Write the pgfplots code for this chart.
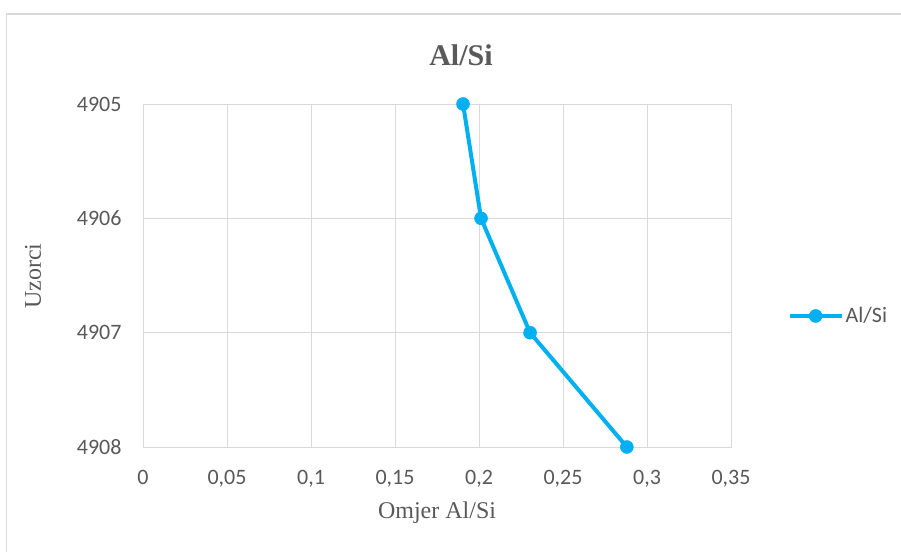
\documentclass[border=0pt]{standalone}
\usepackage{fontspec}
\setmainfont{Liberation Serif}
\newfontfamily\calfont{Carlito}
\usepackage{pgfplots}
\pgfplotsset{compat=1.18}
\definecolor{txt}{HTML}{595959}
\definecolor{grd}{HTML}{D9D9D9}
\definecolor{ser}{HTML}{00B0F0}
\begin{document}
\begin{tikzpicture}
\useasboundingbox (0pt,0pt) rectangle (901pt,552pt);
\fill[white] (0pt,0pt) rectangle (901pt,552pt);
\draw[grd, line width=1.5pt] (6.5pt,0pt) -- (6.5pt,538pt) -- (901pt,538pt);
\begin{axis}[at={(143pt,105pt)}, anchor=south west, scale only axis,
  width=588pt, height=343pt,
  xmin=0, xmax=0.35, ymin=4905, ymax=4908, y dir=reverse,
  xtick={0,0.05,0.1,0.15,0.2,0.25,0.3,0.35},
  xticklabels={0,{0,05},{0,1},{0,15},{0,2},{0,25},{0,3},{0,35}},
  ytick={4905,4906,4907,4908},
  yticklabels={4905,4906,4907,4908},
  grid=major, major grid style={grd, line width=1pt},
  axis line style={grd, line width=1pt},
  major tick length=0pt,
  ticklabel style={font=\calfont\fontsize{22}{22}\selectfont, text=txt},
  xticklabel style={yshift=-20pt},
  yticklabel style={xshift=-18pt},
  legend style={at={(axis description cs:1.096,0.382)}, anchor=west, draw=none, fill=none,
    font=\calfont\fontsize{22}{22}\selectfont, text=txt, inner sep=0pt},
  legend image code/.code={\draw[mark repeat=2,mark phase=2] plot coordinates {(0pt,0pt)(26pt,0pt)(52pt,0pt)};},
]
\addplot[ser, line width=4pt, mark=*, mark size=6.5pt, mark options={fill=ser, draw=ser, line width=0.5pt}]
  coordinates {(0.1905,4905) (0.2012,4906) (0.2304,4907) (0.288,4908)};
\addlegendentry{Al/Si}
\end{axis}
\node[font=\bfseries\fontsize{30}{30}\selectfont, text=txt] at (461pt,497pt) {Al/Si};
\node[font=\fontsize{24}{24}\selectfont, text=txt] at (437pt,39pt) {Omjer Al/Si};
\node[font=\fontsize{24}{24}\selectfont, text=txt, rotate=90] at (33pt,276pt) {Uzorci};
\end{tikzpicture}
\end{document}
